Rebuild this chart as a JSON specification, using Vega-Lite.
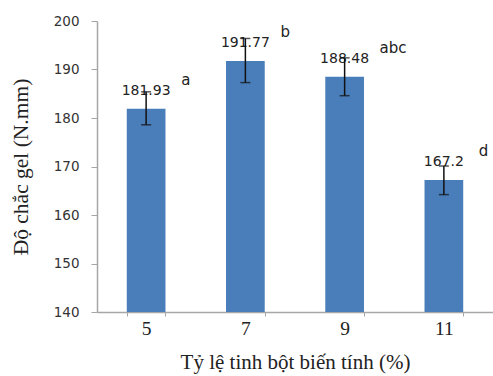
{
  "$schema": "https://vega.github.io/schema/vega-lite/v6.json",
  "width": 396,
  "height": 291,
  "autosize": {"type": "none"},
  "padding": {"left": 97, "top": 21, "right": 0, "bottom": 64},
  "background": "white",
  "config": {"view": {"stroke": null}},
  "data": {"values": [
    {"ratio": "5", "mean": 181.93, "lo": 178.6, "hi": 185.4, "label": "181.93", "sig": "a"},
    {"ratio": "7", "mean": 191.77, "lo": 187.3, "hi": 196.4, "label": "191.77", "sig": "b"},
    {"ratio": "9", "mean": 188.48, "lo": 184.6, "hi": 192.4, "label": "188.48", "sig": "abc"},
    {"ratio": "11", "mean": 167.2, "lo": 164.2, "hi": 170.1, "label": "167.2", "sig": "d"}
  ]},
  "encoding": {
    "x": {"field": "ratio", "type": "ordinal", "sort": ["5", "7", "9", "11"],
      "scale": {"paddingInner": 0.61, "paddingOuter": 0.3},
      "axis": {"title": "Tỷ lệ tinh bột biến tính (%)", "labelAngle": 0,
        "titleFont": "Liberation Serif", "titleFontSize": 21, "titleFontWeight": "normal", "titleColor": "#222",
        "titlePadding": 14,
        "labelFont": "Liberation Serif", "labelFontSize": 19.5, "labelColor": "#222", "labelPadding": 3,
        "tickBand": "extent", "tickSize": 4, "tickColor": "#a6a6a6", "domainColor": "#a6a6a6", "domainWidth": 1.5, "grid": false}}
  },
  "layer": [
    {"mark": {"type": "bar", "color": "#4a7ebb", "clip": true},
     "encoding": {"y": {"field": "mean", "type": "quantitative",
        "scale": {"domain": [140, 200], "zero": false, "nice": false},
        "axis": {"title": "Độ chắc gel (N.mm)", "values": [140, 150, 160, 170, 180, 190, 200],
          "titleFont": "Liberation Serif", "titleFontSize": 21.5, "titleFontWeight": "normal", "titleColor": "#222",
          "titlePadding": 21,
          "labelFont": "DejaVu Sans", "labelFontSize": 13.5, "labelColor": "#333", "labelPadding": 12,
          "tickSize": 6, "tickColor": "#a6a6a6", "domainColor": "#a6a6a6", "domainWidth": 1.5, "grid": false}}}},
    {"mark": {"type": "text", "font": "DejaVu Sans", "fontSize": 14, "color": "#222", "baseline": "middle", "dy": -18},
     "encoding": {"y": {"field": "mean", "type": "quantitative"}, "text": {"field": "label"}}},
    {"mark": {"type": "text", "font": "DejaVu Sans", "fontSize": 15, "color": "#222", "align": "left", "baseline": "middle", "dx": 35, "dy": -29},
     "encoding": {"y": {"field": "mean", "type": "quantitative"}, "text": {"field": "sig"}}},
    {"mark": {"type": "rule", "color": "#111", "strokeWidth": 1.5},
     "encoding": {"y": {"field": "lo", "type": "quantitative"}, "y2": {"field": "hi"}}},
    {"mark": {"type": "tick", "color": "#111", "thickness": 1.5, "size": 10},
     "encoding": {"y": {"field": "lo", "type": "quantitative"}}},
    {"mark": {"type": "tick", "color": "#111", "thickness": 1.5, "size": 10},
     "encoding": {"y": {"field": "hi", "type": "quantitative"}}}
  ]
}
